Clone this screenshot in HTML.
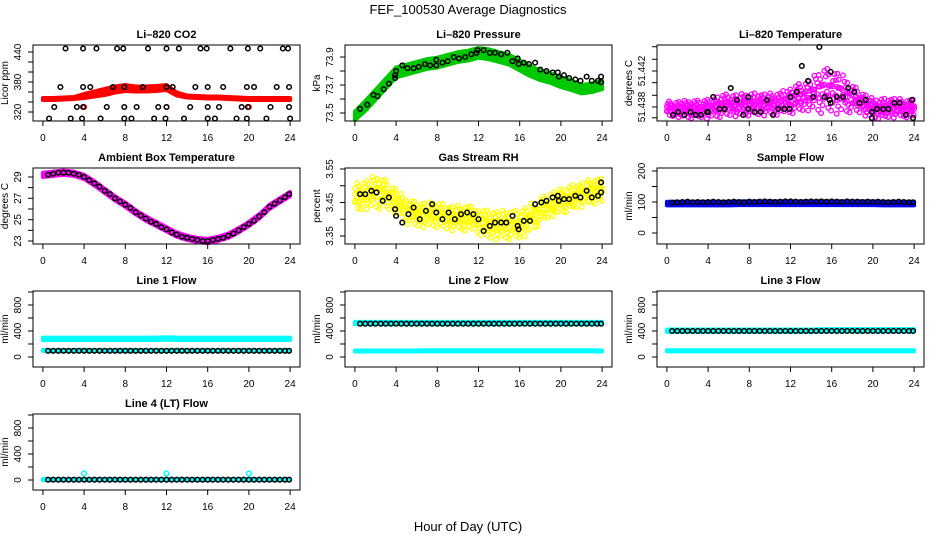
<!DOCTYPE html>
<html><head><meta charset="utf-8"><style>
html,body{margin:0;padding:0;background:#fff;}
svg{display:block;font-family:"Liberation Sans",Arial,sans-serif;}
</style></head><body>
<svg id="chart" width="936" height="540" viewBox="0 0 936 540">
<text x="468" y="14" text-anchor="middle" font-size="13">FEF_100530  Average Diagnostics</text>
<text x="468" y="531" text-anchor="middle" font-size="13">Hour of Day (UTC)</text>
</svg>
<script>
// ---- data ----
const HH = [0,1,2,3,4,5,6,7,8,9,10,11,12,13,14,15,16,17,18,19,20,21,22,23,24];
const HALF = [0.5,1,1.5,2,2.5,3,3.5,4,4.5,5,5.5,6,6.5,7,7.5,8,8.5,9,9.5,10,10.5,11,11.5,12,12.5,13,13.5,14,14.5,15,15.5,16,16.5,17,17.5,18,18.5,19,19.5,20,20.5,21,21.5,22,22.5,23,23.5,23.9];
const xTicks = [0,4,8,12,16,20,24];

const co2Center = [346,346,347,348,352,356,360,365,368,366,366,367,369,356,351,350,349,349,348,347,346,346,346,346,346];
const co2Half = [2,2,2,2,4,5,6,6,6,5,5,5,5,3,2,2,2,2,2,2,2,2,2,2,2];
const co2BlackT = [2.2,3.9,5.2,7.2,7.8,10.2,12,13.2,15.3,15.9,18.2,19.9,21.1,23.3,23.8,
 1.7,3.9,4.6,6.8,7.9,9.7,12,12.6,14.8,16,17.5,19.8,20.5,22.7,23.9,
 1.1,3.3,3.9,6.2,7.9,9.1,11.2,12,14.3,16,17.1,19.3,19.9,22.1,23.9,
 0.6,2.7,3.8,5.6,7.9,8.6,10.8,11.9,13.7,16,16.7,18.8,19.8,21.7,24];
const co2BlackV = [447,447,447,447,447,447,447,447,447,447,447,447,447,447,447,
 370,370,370,370,370,370,370,370,370,370,370,370,370,370,370,
 330,330,330,330,330,330,330,330,330,330,330,330,330,330,330,
 307,307,307,307,307,307,307,307,307,307,307,307,307,307,307];
const co2RedT = [4,12,20];
const co2RedV = [330,330,330];

const presCenter = [73.48,73.55,73.63,73.71,73.79,73.81,73.83,73.85,73.86,73.88,73.90,73.91,73.93,73.92,73.90,73.88,73.84,73.80,73.77,73.75,73.72,73.70,73.67,73.68,73.70];
const presHalf = [0.03,0.035,0.035,0.035,0.035,0.035,0.035,0.035,0.035,0.035,0.035,0.035,0.035,0.035,0.035,0.035,0.035,0.035,0.035,0.035,0.035,0.035,0.03,0.03,0.03];
const presBlackT = [0.5,1.2,1.8,2.2,2.8,3.3,3.9,3.9,4.0,4.6,5.1,5.7,6.2,6.8,7.3,7.9,7.9,8.5,9.0,9.6,10.1,10.7,11.3,11.8,11.9,12.5,13.1,13.6,14.2,14.8,15.3,15.8,15.9,16.4,16.9,17.5,18.0,18.6,19.2,19.7,19.8,20.3,20.8,21.4,21.9,22.5,23.0,23.6,23.9,23.9];
const presBlackV = [73.53,73.56,73.63,73.62,73.67,73.71,73.77,73.75,73.80,73.84,73.82,73.82,73.83,73.85,73.84,73.88,73.84,73.86,73.87,73.90,73.89,73.90,73.92,73.93,73.95,73.95,73.93,73.93,73.92,73.93,73.87,73.89,73.85,73.86,73.85,73.86,73.81,73.80,73.79,73.79,73.76,73.77,73.75,73.74,73.73,73.76,73.73,73.73,73.76,73.72];

const ltCenter = [51.4379,51.4379,51.4379,51.4379,51.4380,51.4383,51.4384,51.4384,51.4385,51.4385,51.4385,51.4386,51.4390,51.4393,51.4397,51.4402,51.4402,51.4398,51.4392,51.4386,51.4380,51.4380,51.4381,51.4380,51.4380];
const ltHalf = [0.0007,0.0007,0.0008,0.0008,0.0009,0.0010,0.0010,0.0010,0.0010,0.0010,0.0010,0.0010,0.0012,0.0013,0.0014,0.0020,0.0020,0.0018,0.0012,0.0010,0.0009,0.0009,0.0009,0.0008,0.0008];
const ltBlackT = [0.6,1.1,1.7,2.3,2.8,3.3,3.9,4,4.5,5.1,5.6,6.2,6.8,7.4,7.9,7.9,8.5,9.1,9.7,10.3,10.8,11.4,11.9,12,12.6,13.1,13.7,14.2,14.8,15.3,15.8,15.9,15.9,16.5,17.1,17.6,18.2,18.7,19.3,19.9,19.9,20.4,21,21.5,22.1,22.6,23.2,23.8,23.9];
const ltBlackV = [51.43711,51.43744,51.43711,51.43744,51.43711,51.43711,51.43744,51.43744,51.43911,51.43778,51.43778,51.44011,51.43878,51.43711,51.43911,51.43778,51.43744,51.43744,51.43878,51.43711,51.43778,51.43778,51.43778,51.43911,51.43967,51.44256,51.44089,51.43911,51.44467,51.43911,51.43878,51.43844,51.44189,51.43911,51.43911,51.44011,51.43967,51.43844,51.43878,51.43744,51.43678,51.43778,51.43778,51.43778,51.43844,51.43844,51.43711,51.43878,51.43678];

const ambCenter = [29.2,29.3,29.4,29.3,29.0,28.4,27.7,27.0,26.4,25.7,25.1,24.6,24.1,23.6,23.3,23.1,23.0,23.2,23.5,24.0,24.6,25.3,26.2,26.8,27.4];
const ambHalf = [0.2,0.2,0.2,0.2,0.2,0.2,0.2,0.2,0.2,0.2,0.2,0.2,0.2,0.2,0.2,0.2,0.2,0.2,0.2,0.2,0.2,0.2,0.2,0.2,0.2];
const ambBlackV = [29.2,29.3,29.4,29.4,29.4,29.3,29.2,29.0,28.7,28.4,28.1,27.7,27.4,27.0,26.7,26.4,26.1,25.7,25.4,25.1,24.8,24.6,24.3,24.1,23.8,23.6,23.4,23.3,23.2,23.1,23.0,23.0,23.1,23.2,23.3,23.5,23.7,24.0,24.3,24.6,24.9,25.3,25.7,26.2,26.5,26.8,27.1,27.4];

const rhCenter = [3.47,3.48,3.49,3.48,3.46,3.43,3.42,3.42,3.42,3.41,3.41,3.41,3.40,3.39,3.39,3.39,3.39,3.41,3.43,3.45,3.46,3.47,3.48,3.49,3.49];
const rhHalf = [0.035,0.035,0.04,0.035,0.03,0.03,0.03,0.03,0.03,0.03,0.03,0.03,0.03,0.035,0.035,0.035,0.035,0.035,0.03,0.03,0.03,0.03,0.03,0.03,0.03];
const rhBlackT = [0.5,1,1.6,2.1,2.7,3.3,3.9,4,4.6,5.2,5.7,6.3,6.9,7.5,7.9,8.5,9.1,9.7,10.3,10.9,11.5,12,12.5,13.1,13.6,14.2,14.7,15.3,15.8,15.9,16.4,17,17.5,18.1,18.6,19.2,19.7,19.8,20.3,20.8,21.4,21.9,22.5,23,23.6,23.9,23.9];
const rhBlackV = [3.475,3.475,3.485,3.48,3.455,3.465,3.43,3.41,3.39,3.415,3.435,3.40,3.425,3.445,3.42,3.40,3.42,3.40,3.415,3.42,3.415,3.40,3.365,3.38,3.39,3.39,3.39,3.41,3.38,3.37,3.395,3.395,3.445,3.45,3.455,3.465,3.47,3.455,3.46,3.46,3.47,3.465,3.485,3.465,3.47,3.51,3.48];

const sfCenter = [95,95,95,95,95,95,95,96,96,96,96,96,96,96,96,96,96,96,96,96,96,95,95,95,95];
const sfHalf = [6,6,6,6,6,6,6,6,6,6,6,6,6,6,6,6,6,6,6,6,6,6,6,6,6];
const sfBlackV = [98,99,100,101,99,100,99,100,101,100,99,100,101,100,99,101,100,101,102,101,100,101,102,102,101,100,101,102,101,102,101,102,101,100,102,101,101,100,101,100,101,100,99,100,101,100,99,99];

const f1Top = [280,280,280,280,280,280,280,280,280,280,280,280,285,280,280,280,280,280,280,280,280,280,280,280,280];
const f1Low = [100,100,100,100,100,100,100,100,100,100,100,100,100,100,100,100,100,100,100,100,100,100,100,100,100];
const f1BlackV = [95,95,95,95,95,95,95,95,95,95,95,95,95,95,95,95,95,95,95,95,95,95,95,95,95,95,95,95,95,95,95,95,95,95,95,95,95,95,95,95,95,95,95,95,95,95,95,95];
const f2Top = [523,523,523,523,523,523,523,523,523,523,523,523,523,523,523,523,523,523,523,523,523,523,523,523,523];
const f2Low = [92,92,92,92,92,92,92,95,95,95,95,95,95,95,95,95,95,95,95,95,95,95,95,95,92];
const f2BlackV = [512,512,512,512,512,512,512,512,512,512,512,512,512,512,512,512,512,512,512,512,512,512,512,512,512,512,512,512,512,512,512,512,512,512,512,512,512,512,512,512,512,512,512,512,512,512,512,512];
const f3Top = [405,405,405,405,405,405,405,405,405,405,405,405,405,405,405,410,410,410,410,410,410,410,410,410,410];
const f3Low = [95,95,95,95,95,95,95,95,95,95,95,95,95,95,95,95,95,95,95,95,95,95,95,95,95];
const f3BlackV = [400,400,400,400,400,400,400,400,400,400,400,400,400,400,400,400,400,400,400,400,400,400,400,400,400,400,400,400,400,400,400,400,400,400,400,400,400,400,400,400,400,400,400,400,400,400,400,400];
const f4Cyan = [5,5,5,5,5,5,5,5,5,5,5,5,5,5,5,5,5,5,5,5,5,5,5,5,5];
const f4SpikeT = [4,12,20];
const f4SpikeV = [100,100,100];
const f4BlackV = [5,5,5,5,5,5,5,5,5,5,5,5,5,5,5,5,5,5,5,5,5,5,5,5,5,5,5,5,5,5,5,5,5,5,5,5,5,5,5,5,5,5,5,5,5,5,5,5];

const flowTicks = [0,200,400,600,800,1000];
const flowLabelV = [0,400,800];
const flowLabelS = ["0","400","800"];

// ---- rendering ----
const NS = "http://www.w3.org/2000/svg";
const svg = document.getElementById("chart");
function mk(tag, attrs, parent){ const e=document.createElementNS(NS,tag); for(const k in attrs) e.setAttribute(k,attrs[k]); (parent||svg).appendChild(e); return e; }

function panel(cfg){
  const L = 33 + cfg.col*312, R = L+267, T = 45 + cfg.row*123, B = T+76;
  const g = mk("g",{});
  
  
  const x = h => L + 9.9 + h*(247.2/24);
  const y = v => B - (v - cfg.ylim[0])/(cfg.ylim[1]-cfg.ylim[0])*76;
  const plot = mk("g",{},g);
  
  
  const box = mk("rect",{x:L,y:T,width:267,height:76,fill:"none",stroke:"#000","stroke-width":1},g);
  
  
  const t = mk("text",{x:(L+R)/2,y:T-7,"text-anchor":"middle","font-size":11,"font-weight":"bold"},g);
  t.textContent = cfg.title;
  
  
  const xa = mk("g",{},g);
  
  
  mk("line",{x1:x(0),x2:x(24),y1:B,y2:B,stroke:"#000"},xa);
  xTicks.forEach(h=>{
    mk("line",{x1:x(h),x2:x(h),y1:B,y2:B+5,stroke:"#000"},xa);
    const tl = mk("text",{x:x(h),y:B+20,"text-anchor":"middle","font-size":10},xa);
    tl.textContent = h;
    
    
  });
  const ya = mk("g",{},g);
  
  
  mk("line",{x1:L,x2:L,y1:y(cfg.ticks[0]),y2:y(cfg.ticks[cfg.ticks.length-1]),stroke:"#000"},ya);
  cfg.ticks.forEach(v=>mk("line",{x1:L-5,x2:L,y1:y(v),y2:y(v),stroke:"#000"},ya));
  cfg.labelV.forEach((v,i)=>{
    const yy=y(v);
    const tl = mk("text",{x:L-12,y:yy,"text-anchor":"middle","font-size":10,transform:`rotate(-90 ${L-12} ${yy})`},ya);
    tl.textContent = cfg.labelS[i];
    
    
  });
  const yt = mk("text",{x:L-25,y:(T+B)/2,"text-anchor":"middle","font-size":10,transform:`rotate(-90 ${L-25} ${(T+B)/2})`},g);
  yt.textContent = cfg.ylab;
  
  
  return {x,y,plot};
}

function band(P, centers, halfs, color, name){
  const up=[], dn=[];
  HH.forEach((h,i)=>{ up.push(P.x(h)+","+P.y(centers[i]+halfs[i])); dn.unshift(P.x(h)+","+P.y(centers[i]-halfs[i])); });
  const e = mk("polygon",{points:up.concat(dn).join(" "),fill:color,stroke:color,"stroke-width":4,"stroke-linejoin":"round"},P.plot);
  
  
}
function lerp(arr,h){ const i=Math.min(23,Math.floor(h)); const f=h-i; return arr[i]*(1-f)+arr[i+1]*f; }
function cloud(P, centers, halfs, color, name){
  const g = mk("g",{fill:"none",stroke:color,"stroke-width":1.3},P.plot);
  
  
  const ks=[-1,-0.45,0.1,0.7];
  for(let i=0;i<=120;i++){
    ks.forEach((k,kk)=>{
      const h = Math.max(0,Math.min(24, i*0.2 + (((i*7+kk*5)%9)-4)*0.03));
      const f = 1 + ((((i*11+kk*3)%7)-3)*0.15);
      const v = lerp(centers,h) + k*lerp(halfs,h)*f;
      mk("circle",{cx:P.x(h),cy:P.y(v),r:2.3},g);
    });
  }
}
function pts(P, ts, vs, color, name){
  const g = mk("g",{fill:"none",stroke:color,"stroke-width":1.5},P.plot);
  
  
  ts.forEach((t,i)=>mk("circle",{cx:P.x(t),cy:P.y(vs[i]),r:2.3},g));
}

let P = panel({name:"co2",col:0,row:0,title:"Li–820 CO2",ylab:"Licor ppm",ylim:[302,454],ticks:[320,340,360,380,400,420,440],labelV:[320,380,440],labelS:["320","380","440"]});
band(P,co2Center,co2Half,"#ff0000","co2-series-band");
pts(P,co2RedT,co2RedV,"#ff0000","co2-red-points");
pts(P,co2BlackT,co2BlackV,"#000","co2-average-points");

P = panel({name:"pressure",col:1,row:0,title:"Li–820 Pressure",ylab:"kPa",ylim:[73.443,73.986],ticks:[73.5,73.6,73.7,73.8,73.9],labelV:[73.5,73.7,73.9],labelS:["73.5","73.7","73.9"]});
band(P,presCenter,presHalf,"#00c800","pressure-series-band");
pts(P,presBlackT,presBlackV,"#000","pressure-average-points");

P = panel({name:"licor-temperature",col:2,row:0,title:"Li–820 Temperature",ylab:"degrees C",ylim:[51.43644,51.44489],ticks:[51.4368,51.438,51.4393,51.4407,51.442,51.4433,51.4447],labelV:[51.438,51.442],labelS:["51.438","51.442"]});
cloud(P,ltCenter,ltHalf,"#ff00ff","licor-temperature-series");
pts(P,ltBlackT,ltBlackV,"#000","licor-temperature-average-points");

P = panel({name:"ambient-temperature",col:0,row:1,title:"Ambient Box Temperature",ylab:"degrees C",ylim:[22.72,29.84],ticks:[23,24,25,26,27,28,29],labelV:[23,25,27,29],labelS:["23","25","27","29"]});
band(P,ambCenter,ambHalf,"#ff00ff","ambient-series-band");
pts(P,HALF,ambBlackV,"#000","ambient-average-points");

P = panel({name:"gas-stream-rh",col:1,row:1,title:"Gas Stream RH",ylab:"percent",ylim:[3.326,3.553],ticks:[3.35,3.40,3.45,3.50,3.55],labelV:[3.35,3.45,3.55],labelS:["3.35","3.45","3.55"]});
cloud(P,rhCenter,rhHalf,"#ffff00","rh-series");
pts(P,rhBlackT,rhBlackV,"#000","rh-average-points");

P = panel({name:"sample-flow",col:2,row:1,title:"Sample Flow",ylab:"ml/min",ylim:[-35.5,209.7],ticks:[0,50,100,150,200],labelV:[0,100,200],labelS:["0","100","200"]});
band(P,sfCenter,sfHalf,"#0000ff","sample-flow-band");
pts(P,HALF,sfBlackV,"#000","sample-flow-average-points");

const fl = [-154,1015];
const cy="#00ffff";
const small = [8,8,8,8,8,8,8,8,8,8,8,8,8,8,8,8,8,8,8,8,8,8,8,8,8];
const wide = [18,18,18,18,18,18,18,18,18,18,18,18,18,18,18,18,18,18,18,18,18,18,18,18,18];
P = panel({name:"line-1-flow",col:0,row:2,title:"Line 1 Flow",ylab:"ml/min",ylim:fl,ticks:flowTicks,labelV:flowLabelV,labelS:flowLabelS});
band(P,f1Top,wide,cy,"line-1-upper-band"); band(P,f1Low,small,cy,"line-1-lower-band");
pts(P,HALF,f1BlackV,"#000","line-1-average-points");
P = panel({name:"line-2-flow",col:1,row:2,title:"Line 2 Flow",ylab:"ml/min",ylim:fl,ticks:flowTicks,labelV:flowLabelV,labelS:flowLabelS});
band(P,f2Top,wide,cy,"line-2-upper-band"); band(P,f2Low,small,cy,"line-2-lower-band");
pts(P,HALF,f2BlackV,"#000","line-2-average-points");
P = panel({name:"line-3-flow",col:2,row:2,title:"Line 3 Flow",ylab:"ml/min",ylim:fl,ticks:flowTicks,labelV:flowLabelV,labelS:flowLabelS});
band(P,f3Top,wide,cy,"line-3-upper-band"); band(P,f3Low,small,cy,"line-3-lower-band");
pts(P,HALF,f3BlackV,"#000","line-3-average-points");
P = panel({name:"line-4-flow",col:0,row:3,title:"Line 4 (LT) Flow",ylab:"ml/min",ylim:fl,ticks:flowTicks,labelV:flowLabelV,labelS:flowLabelS});
band(P,f4Cyan,small,cy,"line-4-band");
pts(P,f4SpikeT,f4SpikeV,cy,"line-4-spike-points");
pts(P,HALF,f4BlackV,"#000","line-4-average-points");
</script>
</body></html>
